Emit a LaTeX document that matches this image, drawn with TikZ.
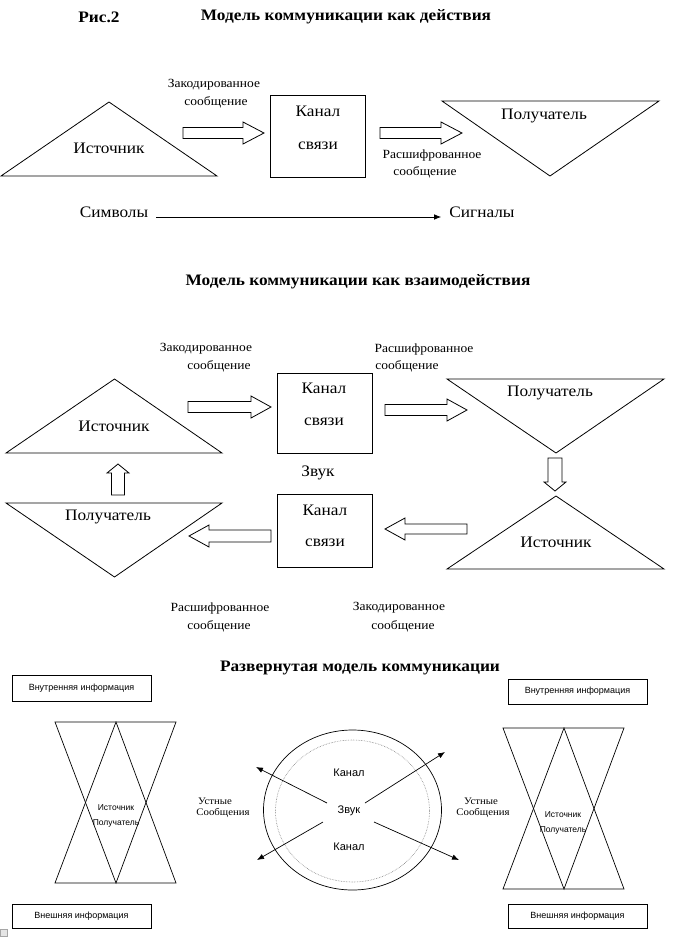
\documentclass[tikz,border=0pt]{standalone}
\usepackage{fontspec}
\setmainfont[FakeStretch=1.08]{Liberation Serif}
\newfontfamily\sansf{Liberation Sans}
\usetikzlibrary{arrows.meta,shapes.geometric}
% block arrow: tail x, tail y, angle, length, head length, shaft half width
\newcommand{\blkarrow}[6]{%
  \begin{scope}[shift={(#1,#2)},rotate=#3]
    \draw[blk] (0,-#6) -- ({#4-#5},-#6) -- ({#4-#5},-11) -- (#4,0) -- ({#4-#5},11) -- ({#4-#5},#6) -- (0,#6) -- cycle;
  \end{scope}}
\tikzset{
  tri/.style={draw, line width=0.8pt, line join=miter},
  boxs/.style={draw, line width=0.9pt, inner sep=0pt},
  lbl/.style={font=\fontsize{16}{18}\selectfont},
  sml/.style={font=\fontsize{12.5}{14}\selectfont},
  ttl/.style={font=\bfseries\fontsize{16}{18}\selectfont},
  sinf/.style={font=\sansf\fontsize{9}{10}\selectfont},
  circtxt/.style={font=\sansf\fontsize{11}{12}\selectfont},
  hgt/.style={font=\sansf\fontsize{8.5}{9}\selectfont},
  oral/.style={font=\fontsize{10}{11}\selectfont},
  blk/.style={draw, line width=0.8pt, fill=white},
  arr/.style={-{Latex[length=7pt,width=5.5pt]}, line width=0.8pt},
}
\begin{document}
\begin{tikzpicture}[x=1pt,y=-1pt,every node/.style={inner sep=0pt}]
\fill[white] (0,0) rectangle (687,951);
\useasboundingbox (0,0) rectangle (687,951);

%% ---------------- TOP ----------------
\node[ttl] (ris) at (99,17) {Рис.2};
\node[ttl] (t1) at (346,17) {Модель коммуникации как действия};

\draw[tri] (1,176) -- (109,102) -- (217,176) -- cycle;
\node[lbl] (src1) at (109,148) {Источник};

\node[sml] (z1a) at (214,85) {Закодированное};
\node[sml] (z1b) at (216,102) {сообщение};
\blkarrow{183}{133}{0}{81}{21}{5.5}

\node[boxs, minimum width=95pt, minimum height=82pt] (box1) at (317.5,136) {};
\node[lbl] (k1a) at (318,111) {Канал};
\node[lbl] (k1b) at (318,146) {связи};

\blkarrow{380}{133}{0}{82}{21}{5.5}
\node[sml] (r1a) at (432,155) {Расшифрованное};
\node[sml] (r1b) at (425,172) {сообщение};

\draw[tri] (442,101) -- (659,101) -- (550,176) -- cycle;
\node[lbl] (rcv1) at (544,116) {Получатель};

\node[lbl, inner xsep=8pt] (sym) at (114,212) {Символы};
\node[lbl, inner xsep=8pt] (sig) at (482,212) {Сигналы};
\draw[arr] ([yshift=-5pt]sym.east) -- ([yshift=-5pt]sig.west);

%% ---------------- MIDDLE ----------------
\node[ttl] (t2) at (358,282) {Модель коммуникации как взаимодействия};

\node[sml] (z2a) at (206,349) {Закодированное};
\node[sml] (z2b) at (219,366) {сообщение};
\node[sml] (r2a) at (424,349) {Расшифрованное};
\node[sml] (r2b) at (407,366) {сообщение};

\draw[tri] (6,453) -- (114.5,379) -- (222,453) -- cycle;
\node[lbl] (src2) at (114,426) {Источник};

\blkarrow{188}{407}{0}{83}{20}{5.5}

\node[boxs, minimum width=95pt, minimum height=80pt] (box2) at (324.5,413) {};
\node[lbl] (k2a) at (324,388) {Канал};
\node[lbl] (k2b) at (324,422) {связи};

\blkarrow{385}{410}{0}{82}{20}{5.5}

\draw[tri] (447,379) -- (664,379) -- (556,453) -- cycle;
\node[lbl] (rcv2) at (550,393) {Получатель};

\blkarrow{555}{458}{-90}{33}{9}{7}

\draw[tri] (447,569) -- (556,496) -- (664,569) -- cycle;
\node[lbl] (src3) at (556,542) {Источник};

\node[lbl] (zvuk1) at (318,473) {Звук};

\node[boxs, minimum width=95pt, minimum height=73pt] (box3) at (324.5,530.5) {};
\node[lbl] (k3a) at (325,510) {Канал};
\node[lbl] (k3b) at (325,543) {связи};

\blkarrow{467}{529}{180}{82}{20}{5}
\blkarrow{271}{536}{180}{82}{20}{6}

\draw[tri] (6,503) -- (222,503) -- (114.5,577) -- cycle;
\node[lbl] (rcv3) at (108,517) {Получатель};

\blkarrow{118}{495}{90}{31}{9}{6.5}

\node[sml] (r3a) at (220,608) {Расшифрованное};
\node[sml] (r3b) at (219,626) {сообщение};
\node[sml] (z3a) at (399,608) {Закодированное};
\node[sml] (z3b) at (403,626) {сообщение};

%% ---------------- BOTTOM ----------------
\node[ttl] (t3) at (360,668) {Развернутая модель коммуникации};

\node[boxs, sinf, minimum width=139pt, minimum height=26pt] (inL) at (81.5,688) {Внутренняя информация};
\node[boxs, sinf, minimum width=139pt, minimum height=25pt] (inR) at (577.5,691.5) {Внутренняя информация};
\node[boxs, sinf, minimum width=139pt, minimum height=24pt] (exL) at (81.5,916) {Внешняя информация};
\node[boxs, sinf, minimum width=139pt, minimum height=24pt] (exR) at (577.5,916) {Внешняя информация};

% left hourglass
\draw[tri, line width=0.7pt] (55,722) -- (176,722) -- (116,883) -- cycle;
\draw[tri, line width=0.7pt] (55,883) -- (176,883) -- (116,722) -- cycle;
\node[hgt] (hlA) at (116,808) {Источник};
\node[hgt] (hlB) at (116,823) {Получатель};

% right hourglass
\draw[tri, line width=0.7pt] (503,728) -- (624,728) -- (564,889) -- cycle;
\draw[tri, line width=0.7pt] (503,889) -- (624,889) -- (564,728) -- cycle;
\node[hgt] (hrA) at (563,815) {Источник};
\node[hgt] (hrB) at (563,830) {Получатель};

% circle
\node[draw, ellipse, line width=0.7pt, minimum width=178pt, minimum height=160pt] (circ) at (352.5,810) {};
\node[draw=gray, densely dotted, ellipse, line width=0.6pt, minimum width=154pt, minimum height=142pt] (circin) at (352.5,811) {};

\node[circtxt] (ck1) at (349,773) {Канал};
\node[circtxt] (zv) at (349,811) {Звук};
\node[circtxt] (ck2) at (349,847) {Канал};

\coordinate (a1s) at (327,803); \coordinate (a1e) at (256,767);
\coordinate (a2s) at (365,803); \coordinate (a2e) at (445,752);
\coordinate (a3s) at (323,822); \coordinate (a3e) at (257,860);
\coordinate (a4s) at (374,822); \coordinate (a4e) at (459,860);
\draw[arr, line width=0.7pt] (a1s) -- (a1e);
\draw[arr, line width=0.7pt] (a2s) -- (a2e);
\draw[arr, line width=0.7pt] (a3s) -- (a3e);
\draw[arr, line width=0.7pt] (a4s) -- (a4e);

\node[oral] (uL1) at (215,801) {Устные};
\node[oral] (uL2) at (223,813) {Сообщения};
\node[oral] (uR1) at (481,801) {Устные};
\node[oral] (uR2) at (483,813) {Сообщения};

% small grey square at bottom left
\node[draw=gray!70, fill=gray!20, minimum size=7pt, line width=0.5pt] (sq) at (3.5,932.5) {};
\end{tikzpicture}
\end{document}
